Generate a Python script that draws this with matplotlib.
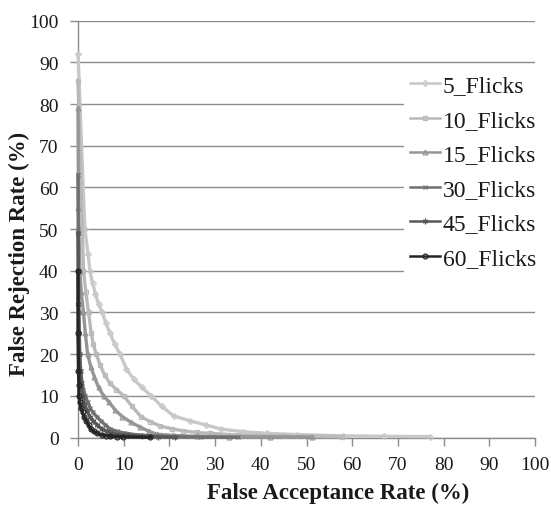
import matplotlib
matplotlib.use("Agg")
import matplotlib.pyplot as plt

plt.rcParams['font.family'] = ['Liberation Serif', 'DejaVu Serif']

labels = ["5_Flicks", "10_Flicks", "15_Flicks", "30_Flicks", "45_Flicks", "60_Flicks"]

far_5 = [0, 1.5, 2.2, 2.6, 3.2, 3.8, 4.5, 5.3, 6.1, 7.0, 8.0, 9.2, 10.6, 12.2, 14.0,
         16.0, 18.3, 20.9, 24.5, 28.0, 31.4, 36.2, 41.3, 48, 58, 67, 77]
frr_5 = [92, 50, 44, 40, 37, 34.5, 32, 30, 27.5, 25, 22.5, 20, 16.4, 14, 12,
         10, 7.5, 5.2, 4.0, 3.0, 2.0, 1.4, 1.0, 0.7, 0.4, 0.3, 0.2]

far_10 = [0, 1.2, 1.7, 2.3, 2.9, 3.3, 4.0, 4.8, 5.8, 7.0, 8.4, 10.0, 11.8, 13.8,
          15.8, 17.9, 20.5, 23, 26, 28.9, 35, 45, 57.7]
frr_10 = [85.5, 40, 35, 30, 25, 22.5, 20, 17.5, 15, 13, 11.5, 10, 7.5, 5,
          3.8, 2.8, 2.1, 1.6, 1.2, 1.0, 0.6, 0.35, 0.2]

far_15 = [0, 0.1, 0.4, 0.7, 1.2, 1.6, 2.1, 2.8, 3.6, 4.5, 5.6, 6.8, 8.2, 9.7, 11.5, 13.6,
          15.5, 17.2, 20.8, 26, 33, 42, 51.2]
frr_15 = [79, 55, 40, 35, 30, 25, 20, 17, 14.5, 12, 10, 8.5, 6.5, 5, 3.7, 2.5,
          1.5, 0.8, 0.5, 0.3, 0.2, 0.15, 0.1]

far_30 = [0, 0.05, 0.1, 0.2, 0.4, 0.6, 0.9, 1.2, 1.6, 2.1, 2.7, 3.3, 4.1, 5.0, 6.0, 7.1,
          8.5, 10, 12.5, 16, 21, 27, 35]
frr_30 = [63, 50, 40, 30, 20, 16, 13, 11.5, 10, 8.5, 7, 6, 5, 4, 3, 2,
          1.5, 1.1, 0.7, 0.4, 0.2, 0.1, 0.05]

far_45 = [0, 0.05, 0.1, 0.2, 0.3, 0.5, 0.7, 1.0, 1.4, 1.9, 2.6, 3.3, 4.2, 5.2, 6.3, 7.5,
          9, 11, 14, 17.5, 21.3]
frr_45 = [49, 40, 32, 25, 20, 16, 13, 10, 8, 6.5, 5, 4, 3, 2, 1.5, 1.0,
          0.7, 0.5, 0.3, 0.15, 0.05]

far_60 = [0, 0, 0.1, 0.2, 0.2, 0.4, 0.7, 1.0, 1.3, 1.8, 2.3, 2.8, 3.4, 4.2, 5.2, 6.2,
          7.0, 8.5, 9.9, 15.8]
frr_60 = [40, 25, 16, 12.6, 10, 8.5, 7, 6, 5, 4, 3, 2, 1.5, 1.0, 0.6, 0.4,
          0.3, 0.2, 0.15, 0.05]

series_far = [far_5, far_10, far_15, far_30, far_45, far_60]
series_frr = [frr_5, frr_10, frr_15, frr_30, frr_45, frr_60]
colors = ['#c8c8c8', '#b9b9b9', '#969696', '#707070', '#575757', '#262626']
markers = ['D', 's', '^', 'x', (6, 2, 0), 'o']
msizes = [3, 3.5, 3.5, 3.5, 4, 3.5]

fig = plt.figure(figsize=(5.51, 5.06), dpi=100)
ax = fig.add_axes([78 / 551, (506 - 438.5) / 506, (535 - 78) / 551, (438.5 - 21.7) / 506])

for fx, fy, c, m, ms, lab in zip(series_far, series_frr, colors, markers, msizes, labels):
    ax.plot(fx, fy, color=c, lw=2.4, marker=m, markersize=ms, markerfacecolor='none',
            markeredgecolor=c, markeredgewidth=0.9, label=lab, clip_on=False, zorder=3)

ax.set_xlim(0, 100)
ax.set_ylim(0, 100)
ax.set_xticks(range(0, 101, 10))
ax.set_yticks(range(0, 101, 10))
ax.yaxis.grid(True, color='#8c8c8c', lw=1.0)
ax.set_axisbelow(True)
for s in ['top', 'right']:
    ax.spines[s].set_visible(False)
for s in ['left', 'bottom']:
    ax.spines[s].set_color('#8c8c8c')
    ax.spines[s].set_linewidth(1.0)
ax.tick_params(axis='both', colors='#8c8c8c', length=6, width=1.0, labelsize=14,
               labelcolor='#1a1a1a', direction='out')
ax.tick_params(axis='y', pad=8)
ax.tick_params(axis='x', pad=7)

ax.set_xlabel('False Acceptance Rate (%)', fontsize=16.5, fontweight='bold', color='#1a1a1a')
ax.set_ylabel('False Rejection Rate (%)', fontsize=16.5, fontweight='bold', color='#1a1a1a')
ax.xaxis.set_label_coords((338 - 78) / 457, -(493 - 438.5) / 416.8)
ax.yaxis.set_label_coords(-(78 - 19) / 457, (438.5 - 254) / 416.8)
ax.xaxis.label.set_va('center')
ax.yaxis.label.set_va('center')

leg = ax.legend(loc='upper left', bbox_to_anchor=((404 - 78) / 457, (438.5 - 70) / 416.8),
                fontsize=17, frameon=True,
                fancybox=False, edgecolor='none', facecolor='white', framealpha=1.0,
                handlelength=1.27, handletextpad=0.13, labelspacing=0.55, borderpad=0.25,
                borderaxespad=0)
for t in leg.get_texts():
    t.set_color('#1a1a1a')
for h in leg.get_lines():
    h.set_linewidth(1.8)

fig.savefig('out.png', dpi=100)
